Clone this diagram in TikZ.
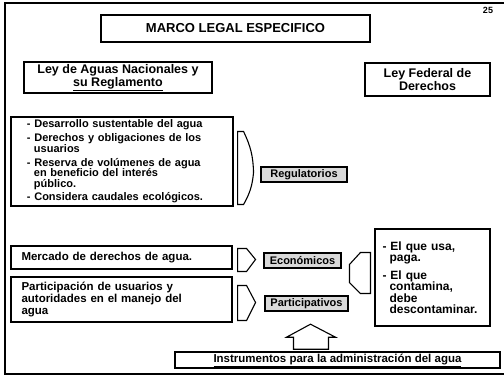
\documentclass[tikz,border=0pt]{standalone}
\usepackage{fontspec}
\setmainfont{Liberation Sans}
\usetikzlibrary{calc, positioning}

\tikzset{
    caja/.style = {draw, line width = 1.1pt, fill = white, inner sep = 2pt, font = \bfseries\fontsize{11}{10.5}\selectfont},
    ley/.style = {caja, line width = 1.3pt, align = center, font = \bfseries\fontsize{12.5}{13}\selectfont},
    tipo/.style = {draw, line width = 1.6pt, fill = black!15, inner sep = 1pt, font = \bfseries\fontsize{11}{11}\selectfont},
    flecha/.style = {draw, line width = 1.1pt, fill = white, line join = miter}
}

\begin{document}
\begin{tikzpicture}[x = 1pt, y = -1pt]
            \useasboundingbox (0, 0) rectangle (504, 380);
            % marco de la lamina
            \draw[line width = 1.2pt] (504, 3) -- (5, 3) -- (5, 374) -- (504, 374);
            \node[font = \bfseries\fontsize{9}{9}\selectfont] (pagina) at (488, 10) {25};

            % titulo y leyes
            \node[caja, line width = 1.4pt, minimum width = 269, minimum height = 27, font = \bfseries\fontsize{13}{12}\selectfont] (titulo) at (235.5, 28.5) {MARCO LEGAL ESPECIFICO};
            \node[ley, minimum width = 188, minimum height = 31] (aguas) at (118, 77.5) {Ley de Aguas Nacionales y\\ \underline{su Reglamento}};
            \node[ley, minimum width = 125, minimum height = 33] (federal) at (427.5, 79.5) {Ley Federal de\\ Derechos};

            % contenidos de la ley
            \node[caja, minimum width = 222, minimum height = 89, align = left, text width = 190] (deberes) at (122, 161.5)
                {- Desarrollo sustentable del agua\\[3.5pt]
                 - Derechos y obligaciones de los\\ \hspace*{7pt}usuarios\\[3.5pt]
                 - Reserva de volúmenes de agua\\ \hspace*{7pt}en beneficio del interés\\ \hspace*{7pt}público.\\[3pt]
                 - Considera caudales ecológicos.};
            \node[caja, minimum width = 221, minimum height = 23, align = left, text width = 200, font = \bfseries\fontsize{11.5}{12}\selectfont] (mercado) at (121.5, 257.5) {Mercado de derechos de agua.};
            \node[caja, minimum width = 221, minimum height = 45, align = left, text width = 200, font = \bfseries\fontsize{11.5}{12}\selectfont] (participa) at (121.5, 299.5)
                {Participación de usuarios y\\ autoridades en el manejo del\\ agua};
            \node[caja, minimum width = 115, minimum height = 97, align = left, text width = 100, font = \bfseries\fontsize{12}{11.5}\selectfont] (usuario) at (432.5, 277.5)
                {- El que usa,\\ \hspace*{7pt}paga.\\[6pt]
                 - El que\\ \hspace*{7pt}contamina,\\ \hspace*{7pt}debe\\ \hspace*{7pt}descontaminar.};

            % tipos de instrumento
            \node[tipo, minimum width = 86, minimum height = 15] (regula) at (304, 174.5) {Regulatorios};
            \node[tipo, minimum width = 77, minimum height = 15] (economia) at (302.5, 260.5) {Económicos};
            \node[tipo, minimum width = 83, minimum height = 15] (partic) at (306.5, 303.5) {Participativos};
            \node[tipo, fill = white, minimum width = 325, minimum height = 16, font = \bfseries\fontsize{11.5}{11}\selectfont] (instrum) at (337.5, 360) {\underline{Instrumentos para la administración del agua}};

            % flechas de bloque
            \draw[flecha] ($(deberes.east) + (4, -30)$) -- ++(6, 0) to[bend left = 12] ($(deberes.east) + (20, 11)$)
                to[bend left = 12] ($(deberes.east) + (10, 43)$) -- ++(-6, 0) -- cycle;
            \draw[flecha] ($(mercado.east) + (5, -9)$) -- ++(9, 0) -- ++(9, 11) -- ++(-9, 12) -- ++(-9, 0) -- cycle;
            \draw[flecha] ($(participa.east) + (5, -14)$) -- ++(9, 0) -- ++(9, 17) -- ++(-9, 18) -- ++(-9, 0) -- cycle;
            \draw[flecha] ($(usuario.west) + (-4, -25)$) -- ++(-10, 0) -- ++(-11, 12) -- ++(0, 18) -- ++(11, 11) -- ++(10, 0) -- cycle;
            \draw[flecha] ($(instrum.north) + (-44, -2)$) -- ++(0, -12) -- ++(-7, 0) -- ++(24, -13) -- ++(25, 13) -- ++(-7, 0) -- ++(0, 12) -- cycle;
        \end{tikzpicture}
\end{document}
